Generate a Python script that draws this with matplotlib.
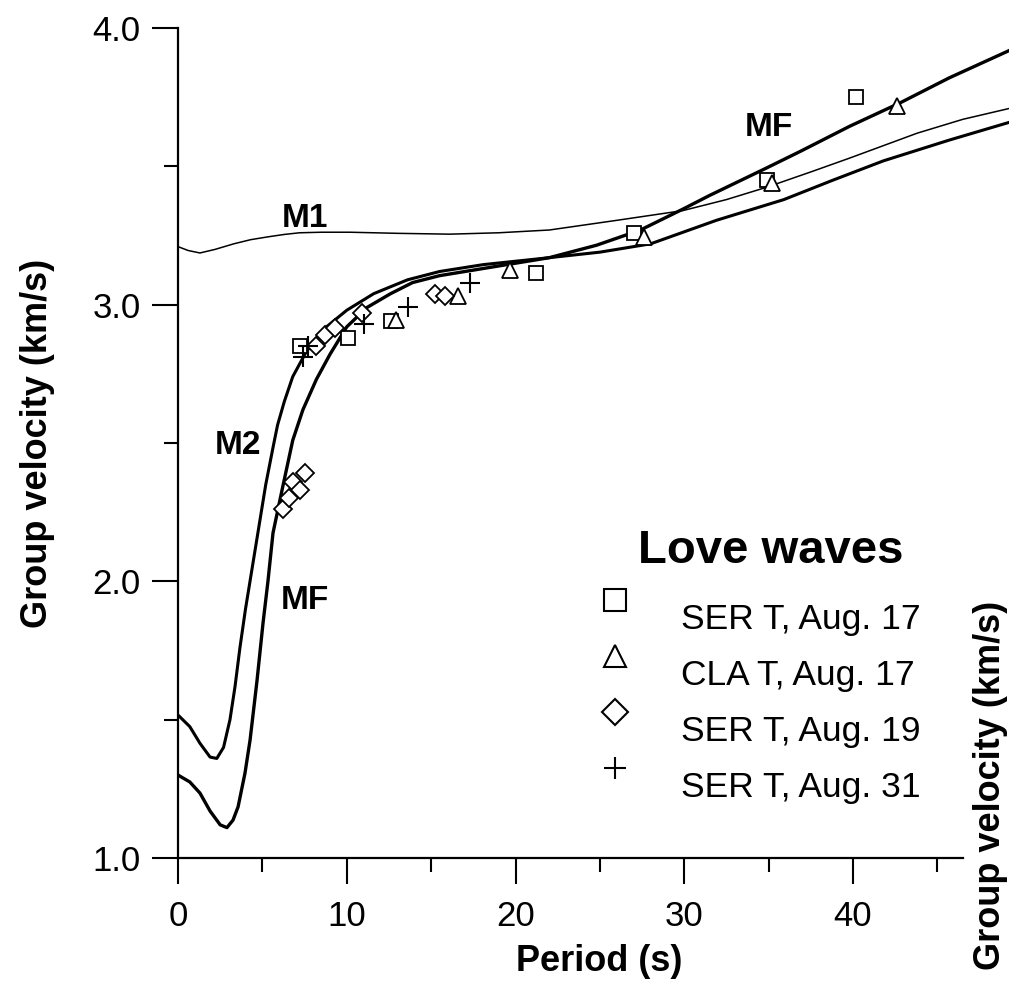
import matplotlib
matplotlib.use("Agg")
import matplotlib.pyplot as plt

plt.rcParams['font.family'] = ['Liberation Sans', 'DejaVu Sans']

# model curves (period s, group velocity km/s)
m1_x = [0, 0.6, 1.3, 2.2, 3.3, 4.3, 5.3, 6.3, 7.2, 8.5, 10.2, 13.0, 16.1, 19.0, 22.0, 26.0, 29.9, 32.5, 34.9, 37.5, 39.8, 43.8, 46.5, 49.3]
m1_y = [3.21, 3.196, 3.187, 3.2, 3.22, 3.235, 3.245, 3.254, 3.26, 3.262, 3.262, 3.258, 3.255, 3.26, 3.27, 3.305, 3.34, 3.38, 3.425, 3.48, 3.53, 3.62, 3.67, 3.71]

m2_x = [0, 0.7, 1.3, 1.9, 2.3, 2.7, 3.08, 3.38, 3.67, 4.0, 4.4, 4.8, 5.2, 5.65, 5.9, 6.3, 6.8, 7.6, 8.6, 10.0, 11.6, 13.6, 15.5, 18.1, 22.0, 25.0, 28.0, 31.9, 35.9, 38.8, 41.8, 45.7, 49.3]
m2_y = [1.517, 1.475, 1.415, 1.365, 1.36, 1.40, 1.50, 1.62, 1.76, 1.90, 2.05, 2.20, 2.35, 2.49, 2.565, 2.65, 2.74, 2.83, 2.91, 2.98, 3.04, 3.09, 3.12, 3.145, 3.17, 3.19, 3.22, 3.305, 3.38, 3.45, 3.52, 3.595, 3.66]

mf_x = [0, 0.7, 1.3, 1.9, 2.5, 2.9, 3.26, 3.56, 3.97, 4.27, 4.68, 5.04, 5.33, 5.63, 6.2, 6.8, 7.4, 8.2, 9.0, 10.0, 11.2, 12.6, 13.9, 15.5, 18.0, 22.0, 24.8, 27.4, 29.9, 31.5, 34.9, 36.9, 39.8, 42.8, 45.7, 49.3]
mf_y = [1.30, 1.275, 1.235, 1.17, 1.12, 1.11, 1.137, 1.185, 1.307, 1.426, 1.64, 1.85, 2.0, 2.175, 2.34, 2.51, 2.62, 2.73, 2.82, 2.92, 2.99, 3.04, 3.08, 3.105, 3.13, 3.17, 3.215, 3.27, 3.345, 3.395, 3.495, 3.555, 3.645, 3.73, 3.82, 3.92]

# observations
sq_x = [7.2, 10.1, 12.6, 21.2, 27.0, 34.9, 40.2]
sq_y = [2.85, 2.88, 2.94, 3.115, 3.26, 3.45, 3.75]
tri_x = [12.9, 16.6, 19.7, 27.6, 35.2, 42.6]
tri_y = [2.945, 3.03, 3.125, 3.245, 3.44, 3.72]
dia_x = [6.2, 6.6, 6.8, 7.2, 7.5, 8.2, 8.7, 9.3, 10.9, 15.2, 15.8]
dia_y = [2.26, 2.30, 2.36, 2.33, 2.39, 2.85, 2.89, 2.915, 2.97, 3.04, 3.03]
pl_x = [7.4, 7.7, 11.0, 13.6, 17.3]
pl_y = [2.81, 2.85, 2.93, 2.99, 3.08]

legend_labels = ["SER T, Aug. 17", "CLA T, Aug. 17", "SER T, Aug. 19", "SER T, Aug. 31"]
legend_markers = ["s", "^", "D", "+"]

fig = plt.figure(figsize=(10.09, 9.84), dpi=100)
ax = fig.add_axes([0.1764, 0.128, 1 - 0.1764, 0.9715 - 0.128])

ax.plot(m1_x, m1_y, color='black', lw=1.1)
ax.plot(m2_x, m2_y, color='black', lw=2.2)
ax.plot(mf_x, mf_y, color='black', lw=2.4)

mk = dict(ls='none', mfc='white', mec='black', mew=1.3)
ax.plot(sq_x, sq_y, marker='s', ms=10, **mk)
ax.plot(tri_x, tri_y, marker='^', ms=12, **mk)
ax.plot(dia_x, dia_y, marker='D', ms=9, **mk)
ax.plot(pl_x, pl_y, marker='+', ms=15, color='black', ls='none', mew=1.5)

ax.text(7.5, 3.31, "M1", fontsize=24, fontweight='bold', ha='center', va='center')
ax.text(3.56, 2.49, "M2", fontsize=24, fontweight='bold', ha='center', va='center')
ax.text(7.5, 1.93, "MF", fontsize=24, fontweight='bold', ha='center', va='center')
ax.text(35.0, 3.64, "MF", fontsize=24, fontweight='bold', ha='center', va='center')

# legend drawn by hand
ax.text(0.554, 0.370, "Love waves", transform=ax.transAxes, fontsize=34,
        fontweight='bold', ha='left', va='center')
for i, (lab, m) in enumerate(zip(legend_labels, legend_markers)):
    ym = 0.311 - i * 0.0675
    ax.plot([0.526], [ym], transform=ax.transAxes, marker=m, ms=16 if m != 'D' else 13,
            mfc='white', mec='black', mew=1.5, clip_on=False)
    ax.text(0.605, ym - 0.024, lab, transform=ax.transAxes, fontsize=25.5,
            ha='left', va='center')

ax.set_xlim(0, 49.24)
ax.set_ylim(1.0, 4.0)
ax.spines['top'].set_visible(False)
ax.spines['right'].set_visible(False)
ax.spines['bottom'].set_bounds(0, 46.5)
for s in ['left', 'bottom']:
    ax.spines[s].set_linewidth(1.6)

ax.set_xticks([0, 10, 20, 30, 40])
ax.set_xticks([5, 15, 25, 35, 45], minor=True)
ax.set_yticks([1.0, 2.0, 3.0, 4.0])
ax.set_yticks([1.5, 2.5, 3.5], minor=True)
ax.set_yticklabels(["1.0", "2.0", "3.0", "4.0"])
ax.tick_params(which='major', direction='out', length=19, width=1.5, labelsize=25)
ax.tick_params(axis='y', which='major', pad=8)
ax.tick_params(axis='x', which='major', pad=11)
ax.tick_params(which='minor', direction='out', length=10, width=1.5)

ax.set_xlabel("Period (s)", fontsize=26, fontweight='bold')
ax.set_ylabel("Group velocity (km/s)", fontsize=26, fontweight='bold')
ax.xaxis.set_label_coords(0.507, -0.103)
ax.yaxis.set_label_coords(-0.148, 0.5)
fig.text(990 / 1009, 1 - 785 / 984, "Group velocity (km/s)", rotation=90,
         fontsize=26, fontweight='bold', ha='center', va='center')

fig.savefig("out.png", dpi=100)
